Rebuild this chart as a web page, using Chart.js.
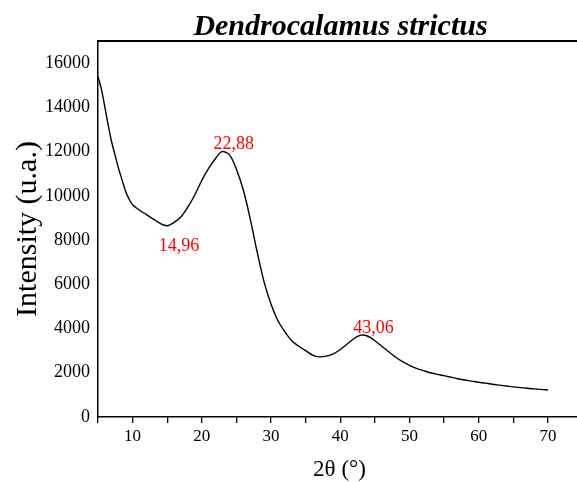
<!DOCTYPE html>
<html>
<head>
<meta charset="utf-8">
<script src="https://cdn.jsdelivr.net/npm/chart.js@4.4.0/dist/chart.umd.min.js"></script>
<style>
  html, body { margin: 0; padding: 0; background: #fff; }
  #wrap { width: 577px; height: 482px; }
</style>
</head>
<body>
<div id="wrap"><canvas id="xrdChart" width="577" height="482"></canvas></div>
<script>
// 2theta (degrees) and intensity
var theta = [5, 5.5, 6, 6.5, 7, 7.5, 8, 8.5, 9, 9.5, 10, 11, 12, 13, 14, 15, 16, 17, 18, 19,
    20, 21, 22, 22.9, 24, 25, 26, 27, 28, 29, 30, 31, 32, 33, 34, 35, 36, 37, 38, 39,
    40, 41, 42, 43, 44, 45, 46, 47, 48, 49, 50, 51, 52, 53, 54, 55, 56, 57, 58, 59,
    60, 61, 62, 63, 64, 65, 66, 67, 68, 69, 70];
var intensity = [15400, 14800, 14000, 13150, 12400, 11800, 11200, 10700, 10200, 9850,
    9600, 9350, 9150, 8950, 8750, 8650, 8800, 9050, 9500, 10050,
    10700, 11250, 11700, 12000, 11850, 11200, 10250, 8950, 7450, 6100,
    5100, 4350, 3850, 3450, 3200, 3000, 2800, 2720, 2750, 2850,
    3050, 3300, 3550, 3700, 3650, 3450, 3200, 2950, 2700, 2500,
    2330, 2200, 2100, 2000, 1930, 1870, 1800, 1730, 1670, 1620,
    1570, 1530, 1480, 1440, 1400, 1360, 1330, 1300, 1270, 1250, 1220];

// axis ticks
var xTicks = [5, 10, 15, 20, 25, 30, 35, 40, 45, 50, 55, 60, 65, 70];
var xTickLabels = ['', '10', '', '20', '', '30', '', '40', '', '50', '', '60', '', '70'];
var yTicks = [0, 2000, 4000, 6000, 8000, 10000, 12000, 14000, 16000];

// peak / valley annotations
var peakLabels = ['14,96', '22,88', '43,06'];
var peakX = [14.96, 22.88, 43.06];
var peakY = [8650, 12000, 3700];
var peakBelow = [true, false, false];

var serif = '"Liberation Serif", "Times New Roman", serif';

var points = theta.map(function(t, i) { return { x: t, y: intensity[i] }; });

var decorPlugin = {
    id: 'decor',
    afterDraw: function(chart) {
        var ctx = chart.ctx;
        var area = chart.chartArea;
        var xs = chart.scales.x, ys = chart.scales.y;
        ctx.save();
        // top frame line
        ctx.strokeStyle = '#000';
        ctx.lineWidth = 2;
        ctx.beginPath();
        ctx.moveTo(area.left, area.top);
        ctx.lineTo(chart.width, area.top);
        ctx.stroke();

        // title
        ctx.fillStyle = '#000';
        ctx.textAlign = 'center';
        ctx.textBaseline = 'alphabetic';
        ctx.font = 'italic bold 30px ' + serif;
        ctx.fillText('Dendrocalamus strictus', (area.left + chart.width) / 2 + 3, 35);

        // x axis title
        ctx.font = '23px ' + serif;
        ctx.textBaseline = 'middle';
        ctx.fillText('2\u03b8 (\u00b0)', (area.left + chart.width) / 2 + 2, 470);

        // y axis title
        ctx.save();
        ctx.translate(28, (area.top + area.bottom) / 2);
        ctx.rotate(-Math.PI / 2);
        ctx.font = '30px ' + serif;
        ctx.fillText('Intensity (u.a.)', 0, 0);
        ctx.restore();

        // peak labels
        ctx.fillStyle = '#ff0000';
        ctx.font = '18px ' + serif;
        ctx.textBaseline = 'middle';
        peakLabels.forEach(function(lbl, i) {
            var px = xs.getPixelForValue(peakX[i]) + 12;
            var py = ys.getPixelForValue(peakY[i]) + (peakBelow[i] ? 21 : -7);
            ctx.fillText(lbl, px, py);
        });
        ctx.restore();
    }
};

var ctx = document.getElementById('xrdChart').getContext('2d');
var xrdChart = new Chart(ctx, {
    type: 'line',
    data: {
        datasets: [{
            data: points,
            borderColor: '#000',
            borderWidth: 1.4,
            pointRadius: 0,
            fill: false,
            tension: 0.3
        }]
    },
    options: {
        responsive: false,
        animation: false,
        layout: {
            padding: { top: 41, left: 0, right: 0, bottom: 0 }
        },
        scales: {
            x: {
                type: 'linear',
                min: 5,
                max: 74.2,
                afterFit: function(scale) { scale.height = 65; },
                afterBuildTicks: function(scale) {
                    scale.ticks = xTicks.map(function(v) { return { value: v }; });
                },
                grid: {
                    drawOnChartArea: false,
                    drawTicks: true,
                    tickLength: 6,
                    color: '#000',
                    lineWidth: 1.3
                },
                border: { display: true, color: '#000', width: 1.5 },
                ticks: {
                    autoSkip: false,
                    maxRotation: 0,
                    padding: 3,
                    color: '#000',
                    font: { family: serif, size: 17 },
                    callback: function(v, i) { return xTickLabels[xTicks.indexOf(v)]; }
                }
            },
            y: {
                min: 0,
                max: 17000,
                afterFit: function(scale) { scale.width = 98; },
                afterBuildTicks: function(scale) {
                    scale.ticks = yTicks.map(function(v) { return { value: v }; });
                },
                grid: { display: false, drawTicks: false },
                border: { display: true, color: '#000', width: 1.5 },
                ticks: {
                    autoSkip: false,
                    padding: 8,
                    color: '#000',
                    font: { family: serif, size: 18 },
                    callback: function(v) { return String(v); }
                }
            }
        },
        plugins: {
            legend: { display: false },
            tooltip: { enabled: false }
        }
    },
    plugins: [decorPlugin]
});
</script>
</body>
</html>
